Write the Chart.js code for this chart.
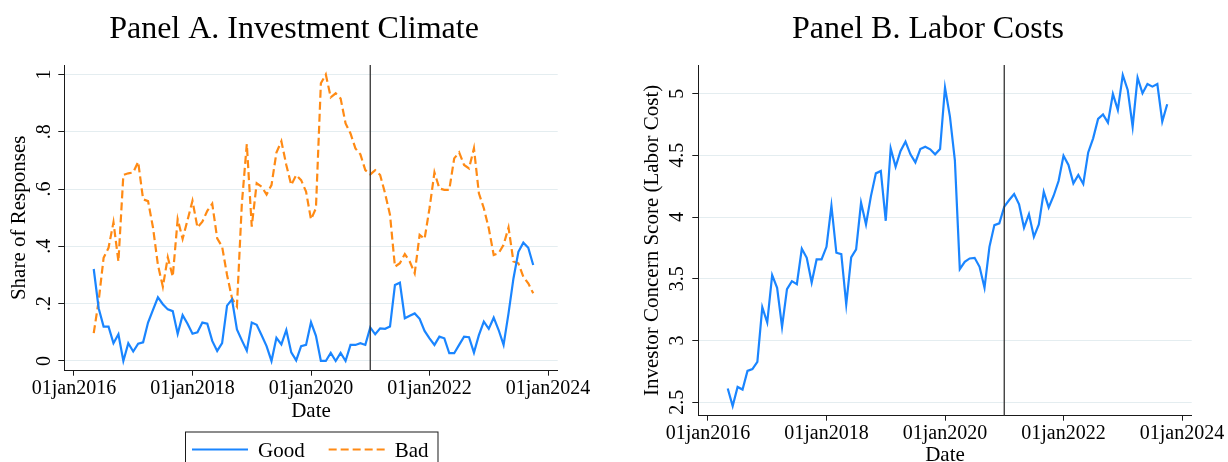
<!DOCTYPE html>
<html>
<head>
<meta charset="utf-8">
<title>Investment Climate and Labor Costs</title>
<script src="https://cdn.jsdelivr.net/npm/chart.js@4.4.0/dist/chart.umd.min.js"></script>
<style>
    html, body { margin: 0; padding: 0; background: #fff; overflow: hidden; }
    #wrap { position: relative; width: 1228px; height: 462px; overflow: hidden; }
    #wrap canvas { position: absolute; top: 0; }
    #panelA { left: 0; }
    #panelB { left: 614px; }
</style>
</head>
<body>
<div id="wrap">
    <canvas id="panelA" width="614" height="480"></canvas>
    <canvas id="panelB" width="614" height="480"></canvas>
</div>
<script>
// Monthly survey waves
const months = [
    '2016-05', '2016-06', '2016-07', '2016-08', '2016-09', '2016-10', '2016-11', '2016-12',
    '2017-01', '2017-02', '2017-03', '2017-04', '2017-05', '2017-06', '2017-07', '2017-08', '2017-09', '2017-10', '2017-11', '2017-12',
    '2018-01', '2018-02', '2018-03', '2018-04', '2018-05', '2018-06', '2018-07', '2018-08', '2018-09', '2018-10', '2018-11', '2018-12',
    '2019-01', '2019-02', '2019-03', '2019-04', '2019-05', '2019-06', '2019-07', '2019-08', '2019-09', '2019-10', '2019-11', '2019-12',
    '2020-01', '2020-02', '2020-03', '2020-04', '2020-05', '2020-06', '2020-07', '2020-08', '2020-09', '2020-10', '2020-11', '2020-12',
    '2021-01', '2021-02', '2021-03', '2021-04', '2021-05', '2021-06', '2021-07', '2021-08', '2021-09', '2021-10', '2021-11', '2021-12',
    '2022-01', '2022-02', '2022-03', '2022-04', '2022-05', '2022-06', '2022-07', '2022-08', '2022-09', '2022-10', '2022-11', '2022-12',
    '2023-01', '2023-02', '2023-03', '2023-04', '2023-05', '2023-06', '2023-07', '2023-08', '2023-09', '2023-10'
];

// Panel A: share of responses
const goodShare = [
    0.321, 0.184, 0.120, 0.120, 0.062, 0.093, 0.000, 0.062, 0.033, 0.060,
    0.065, 0.134, 0.178, 0.222, 0.198, 0.180, 0.174, 0.095, 0.160, 0.130,
    0.095, 0.100, 0.134, 0.130, 0.070, 0.035, 0.062, 0.193, 0.215, 0.110,
    0.072, 0.036, 0.134, 0.126, 0.090, 0.052, 0.000, 0.081, 0.058, 0.108,
    0.030, 0.002, 0.052, 0.056, 0.135, 0.088, 0.000, 0.000, 0.028, 0.000,
    0.028, 0.000, 0.056, 0.056, 0.062, 0.056, 0.117, 0.093, 0.114, 0.112,
    0.120, 0.265, 0.273, 0.149, 0.158, 0.166, 0.147, 0.105, 0.079, 0.056,
    0.085, 0.079, 0.027, 0.027, 0.056, 0.085, 0.083, 0.029, 0.090, 0.137,
    0.112, 0.151, 0.108, 0.056, 0.166, 0.288, 0.381, 0.413, 0.395, 0.335
];
const badShare = [
    0.097, 0.210, 0.360, 0.395, 0.484, 0.347, 0.649, 0.655, 0.658, 0.695,
    0.564, 0.558, 0.466, 0.335, 0.259, 0.362, 0.294, 0.495, 0.426, 0.492,
    0.559, 0.466, 0.486, 0.524, 0.549, 0.428, 0.399, 0.300, 0.219, 0.190,
    0.550, 0.757, 0.469, 0.620, 0.608, 0.581, 0.614, 0.727, 0.767, 0.684,
    0.614, 0.649, 0.631, 0.591, 0.494, 0.533, 0.969, 1.000, 0.920, 0.934,
    0.916, 0.829, 0.794, 0.742, 0.721, 0.666, 0.651, 0.666, 0.649, 0.585,
    0.510, 0.329, 0.341, 0.373, 0.347, 0.306, 0.440, 0.426, 0.533, 0.658,
    0.602, 0.597, 0.597, 0.707, 0.728, 0.684, 0.672, 0.742, 0.585, 0.533,
    0.463, 0.370, 0.376, 0.405, 0.466, 0.347, 0.341, 0.294, 0.271, 0.236
];

// Panel B: investor concern score (labor cost)
const laborScore = [
    2.611, 2.470, 2.624, 2.603, 2.754, 2.768, 2.827, 3.270, 3.146, 3.530,
    3.427, 3.111, 3.416, 3.481, 3.457, 3.743, 3.670, 3.470, 3.657, 3.657,
    3.759, 4.092, 3.711, 3.700, 3.292, 3.673, 3.738, 4.116, 3.941, 4.170,
    4.354, 4.373, 3.970, 4.557, 4.408, 4.535, 4.611, 4.508, 4.443, 4.551,
    4.570, 4.549, 4.508, 4.551, 5.049, 4.814, 4.460, 3.578, 3.638, 3.665,
    3.670, 3.597, 3.427, 3.759, 3.935, 3.949, 4.084, 4.138, 4.186, 4.103,
    3.914, 4.024, 3.840, 3.941, 4.205, 4.078, 4.173, 4.292, 4.497, 4.422,
    4.273, 4.341, 4.268, 4.524, 4.638, 4.795, 4.832, 4.765, 4.997, 4.868,
    5.151, 5.030, 4.732, 5.130, 5.003, 5.078, 5.057, 5.078, 4.773, 4.914
];

// Axis ticks
const xTickMonths = ['2016-01', '2018-01', '2020-01', '2022-01', '2024-01'];
const xTickLabels = ['01jan2016', '01jan2018', '01jan2020', '01jan2022', '01jan2024'];
const shareTicks = [0, 0.2, 0.4, 0.6, 0.8, 1];
const shareTickLabels = ['0', '.2', '.4', '.6', '.8', '1'];
const laborTicks = [2.5, 3, 3.5, 4, 4.5, 5];
const laborTickLabels = ['2.5', '3', '3.5', '4', '4.5', '5'];
const breakMonth = '2021-01';

const SERIF = "'Liberation Serif', 'Times New Roman', serif";
const axisColor = '#1a1a1a';
const gridColor = '#e4edf0';
const blue = '#1a85ff';
const orange = '#ff8a14';

// months since Jan 2016
function monthIndex(m) {
    const parts = m.split('-');
    return (parseInt(parts[0], 10) - 2016) * 12 + parseInt(parts[1], 10) - 1;
}

function toPoints(values) {
    return values.map((v, i) => ({ x: monthIndex(months[i]), y: v }));
}

const panelTitle = {
    id: 'panelTitle',
    afterDraw(chart, args, opts) {
        const ctx = chart.ctx;
        ctx.save();
        ctx.font = opts.font;
        ctx.fillStyle = '#000';
        ctx.textAlign = 'center';
        ctx.textBaseline = 'alphabetic';
        ctx.fillText(opts.text, opts.x, opts.baseline);
        ctx.restore();
    }
};

// Stata style: y labels turned to read bottom-up
const rotatedYLabels = {
    id: 'rotatedYLabels',
    afterDraw(chart, args, opts) {
        const scale = chart.scales.y;
        const ctx = chart.ctx;
        ctx.save();
        ctx.font = opts.font;
        ctx.fillStyle = '#000';
        ctx.textAlign = 'center';
        ctx.textBaseline = 'alphabetic';
        scale.ticks.forEach((t, i) => {
            ctx.save();
            ctx.translate(chart.chartArea.left - opts.gap, scale.getPixelForValue(t.value));
            ctx.rotate(-Math.PI / 2);
            ctx.fillText(opts.labels[i], 0, 0);
            ctx.restore();
        });
        ctx.restore();
    }
};

const eventLine = {
    id: 'eventLine',
    afterDatasetsDraw(chart, args, opts) {
        const ctx = chart.ctx;
        const x = chart.scales.x.getPixelForValue(opts.value);
        ctx.save();
        ctx.strokeStyle = opts.color;
        ctx.lineWidth = opts.width;
        ctx.beginPath();
        ctx.moveTo(x, chart.chartArea.top);
        ctx.lineTo(x, chart.chartArea.bottom);
        ctx.stroke();
        ctx.restore();
    }
};

const boxLegend = {
    id: 'boxLegend',
    afterDraw(chart, args, opts) {
        if (!opts.display) return;
        const ctx = chart.ctx;
        const area = chart.chartArea;
        ctx.save();
        ctx.font = opts.font;
        const items = chart.data.datasets.map(ds => ({ ds: ds, w: ctx.measureText(ds.label).width }));
        let total = opts.padLeft + opts.padRight + opts.itemGap * (items.length - 1);
        items.forEach(it => { total += opts.sample + opts.textGap + it.w; });
        let x = Math.round((area.left + area.right) / 2 - total / 2);
        ctx.strokeStyle = axisColor;
        ctx.lineWidth = 1;
        ctx.strokeRect(x + 0.5, opts.top + 0.5, total, opts.height);
        x += opts.padLeft;
        items.forEach(it => {
            ctx.beginPath();
            ctx.setLineDash(it.ds.borderDash || []);
            ctx.strokeStyle = it.ds.borderColor;
            ctx.lineWidth = it.ds.borderWidth;
            ctx.moveTo(x, opts.lineY);
            ctx.lineTo(x + opts.sample, opts.lineY);
            ctx.stroke();
            ctx.setLineDash([]);
            x += opts.sample + opts.textGap;
            ctx.fillStyle = '#000';
            ctx.textAlign = 'left';
            ctx.textBaseline = 'alphabetic';
            ctx.fillText(it.ds.label, x, opts.baseline);
            x += it.w + opts.itemGap;
        });
        ctx.restore();
    }
};

function xScale(height, titlePad) {
    const tickValues = xTickMonths.map(monthIndex);
    return {
        type: 'linear',
        min: -1.96,
        max: 97.96,
        afterBuildTicks: s => { s.ticks = tickValues.map(v => ({ value: v })); },
        afterFit: s => { s.height = height; },
        ticks: {
            font: { family: SERIF, size: 20 },
            color: '#000',
            padding: 1.5,
            maxRotation: 0,
            autoSkip: false,
            callback: (v, i) => xTickLabels[i]
        },
        grid: { drawOnChartArea: false, drawTicks: true, tickLength: 5, tickColor: axisColor },
        border: { display: true, color: axisColor, width: 1 },
        title: {
            display: true,
            text: 'Date',
            color: '#000',
            font: { family: SERIF, size: 21 },
            padding: { top: 0, bottom: titlePad }
        }
    };
}

function yScale(min, max, tickValues, width, title, titlePad) {
    return {
        type: 'linear',
        min: min,
        max: max,
        afterBuildTicks: s => { s.ticks = tickValues.map(v => ({ value: v })); },
        afterFit: s => { s.width = width; },
        ticks: { display: false },
        grid: { color: gridColor, lineWidth: 1, drawTicks: true, tickLength: 6, tickColor: axisColor },
        border: { display: true, color: axisColor, width: 1 },
        title: {
            display: true,
            text: title,
            color: '#000',
            font: { family: SERIF, size: 21 },
            padding: { top: titlePad, bottom: 0 }
        }
    };
}

function lineDataset(label, values, color, dash) {
    return {
        label: label,
        data: toPoints(values),
        borderColor: color,
        backgroundColor: color,
        borderWidth: 2.2,
        borderDash: dash,
        pointRadius: 0,
        tension: 0,
        fill: false
    };
}

new Chart(document.getElementById('panelA'), {
    type: 'line',
    data: {
        datasets: [
            lineDataset('Good', goodShare, blue, []),
            lineDataset('Bad', badShare, orange, [8, 4])
        ]
    },
    options: {
        responsive: false,
        animation: false,
        layout: { padding: { left: 0, right: 56.3, top: 65, bottom: 0 } },
        scales: {
            x: xScale(109.3, 56.4),
            y: yScale(-0.034, 1.033, shareTicks, 64.3, 'Share of Responses', 6.4)
        },
        plugins: {
            legend: { display: false },
            tooltip: { enabled: false },
            panelTitle: { text: 'Panel A. Investment Climate', x: 294, baseline: 38, font: "32px " + SERIF },
            rotatedYLabels: { labels: shareTickLabels, gap: 14.3, font: "20px " + SERIF },
            eventLine: { value: monthIndex(breakMonth), color: '#333', width: 1.3 },
            boxLegend: {
                display: true, font: "21px " + SERIF, top: 431.5, height: 60, lineY: 449.5, baseline: 456.5,
                padLeft: 7, padRight: 9, sample: 56, textGap: 10, itemGap: 24
            }
        }
    },
    plugins: [panelTitle, rotatedYLabels, eventLine, boxLegend]
});

new Chart(document.getElementById('panelB'), {
    type: 'line',
    data: {
        datasets: [
            lineDataset('Labor Cost', laborScore, blue, [])
        ]
    },
    options: {
        responsive: false,
        animation: false,
        layout: { padding: { left: 0, right: 36.3, top: 65, bottom: 0 } },
        scales: {
            x: xScale(64.3, 12.4),
            y: yScale(2.391, 5.232, laborTicks, 84.3, 'Investor Concern Score (Labor Cost)', 25.4)
        },
        plugins: {
            legend: { display: false },
            tooltip: { enabled: false },
            panelTitle: { text: 'Panel B. Labor Costs', x: 314, baseline: 38, font: "32px " + SERIF },
            rotatedYLabels: { labels: laborTickLabels, gap: 15.3, font: "20px " + SERIF },
            eventLine: { value: monthIndex(breakMonth), color: '#333', width: 1.3 },
            boxLegend: { display: false }
        }
    },
    plugins: [panelTitle, rotatedYLabels, eventLine, boxLegend]
});
</script>
</body>
</html>
